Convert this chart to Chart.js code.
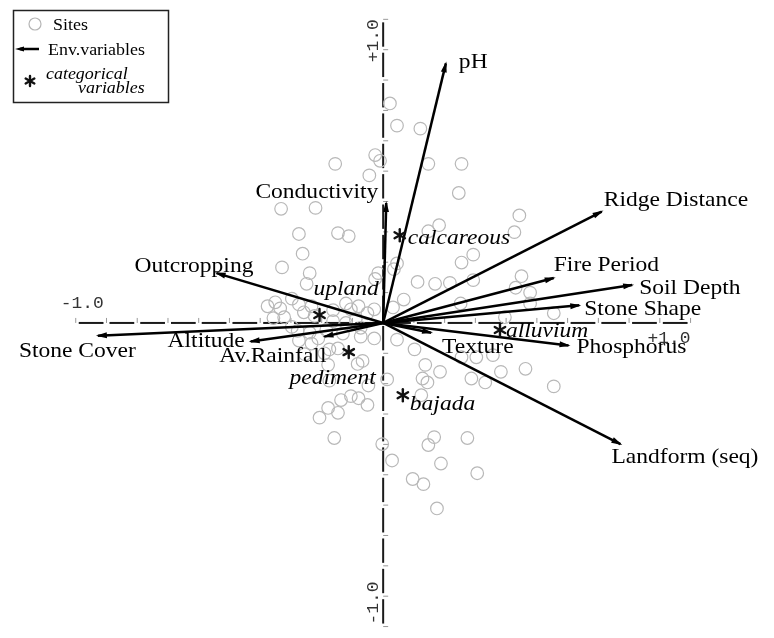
<!DOCTYPE html>
<html lang="en">
<head>
<meta charset="UTF-8">
<script src="https://cdn.jsdelivr.net/npm/chart.js"></script>
<title>CCA biplot</title>
<style>
  body { margin: 0; background: #fff; }
  canvas { display: block; }
</style>
</head>
<body>
<canvas id="biplot" width="774" height="638"></canvas>
<script>
// site scores on axis 1 / axis 2
const siteX = [0.022, 0.045, 0.121, -0.026, -0.010, -0.156, -0.045, 0.147, 0.255, 0.246,
  -0.332, -0.220, -0.274, -0.147, -0.112, 0.182, 0.147, 0.443, 0.427, -0.262,
  -0.329, -0.239, -0.249, -0.016, -0.026, 0.045, 0.035, 0.293, 0.255, 0.112,
  0.169, 0.217, 0.293, 0.450, 0.431, 0.478, 0.478, 0.252, 0.067, 0.032,
  0.396, 0.555, -0.351, -0.335, -0.322, -0.297, -0.274, -0.258, -0.233, -0.223,
  -0.163, -0.121, -0.105, -0.080, -0.051, -0.029, -0.163, -0.121, -0.089, -0.073,
  -0.297, -0.278, -0.239, -0.185, -0.131, -0.073, -0.029, -0.211, -0.274, -0.233,
  -0.175, -0.147, -0.255, -0.191, -0.083, -0.067, -0.376, -0.357, -0.179, -0.175,
  -0.048, 0.013, -0.137, -0.105, -0.080, -0.051, -0.179, -0.207, -0.147, -0.159,
  -0.003, 0.029, 0.096, 0.131, 0.175, 0.166, 0.147, 0.274, 0.188, 0.306,
  0.045, 0.102, 0.137, 0.185, 0.128, 0.144, 0.124, 0.255, 0.303, 0.357,
  0.287, 0.332, 0.383, 0.463, 0.555];
const siteY = [0.723, 0.650, 0.640, 0.553, 0.534, 0.524, 0.486, 0.524, 0.524, 0.428,
  0.376, 0.379, 0.293, 0.296, 0.286, 0.322, 0.302, 0.354, 0.299, 0.228,
  0.183, 0.164, 0.129, 0.164, 0.145, 0.196, 0.177, 0.225, 0.199, 0.135,
  0.129, 0.132, 0.141, 0.154, 0.116, 0.100, 0.064, 0.064, 0.077, 0.051,
  0.019, 0.032, 0.068, 0.048, 0.019, 0.080, 0.061, 0.035, 0.055, 0.023,
  0.042, 0.064, 0.045, 0.055, 0.032, 0.045, 0.006, 0.000, 0.013, -0.016,
  -0.013, -0.026, -0.032, -0.023, -0.035, -0.045, -0.051, -0.051, -0.058, -0.068,
  -0.087, -0.084, -0.103, -0.100, -0.135, -0.125, 0.055, 0.016, -0.138, -0.190,
  -0.206, -0.186, -0.254, -0.241, -0.248, -0.270, -0.280, -0.312, -0.296, -0.379,
  -0.399, -0.453, -0.514, -0.531, -0.611, -0.376, -0.402, -0.379, -0.463, -0.495,
  -0.055, -0.087, -0.138, -0.161, -0.183, -0.196, -0.238, -0.113, -0.113, -0.106,
  -0.183, -0.196, -0.161, -0.151, -0.209];

// environmental variable arrows (biplot scores)
const envNames = ['pH', 'Conductivity', 'Ridge Distance', 'Fire Period', 'Soil Depth',
  'Stone Shape', 'Phosphorus', 'Texture', 'Landform (seq)', 'Stone Cover',
  'Altitude', 'Av.Rainfall', 'Outcropping'];
const envX = [0.204, 0.010, 0.711, 0.555, 0.810, 0.638, 0.603, 0.156, 0.772, -0.928, -0.431, -0.191, -0.542];
const envY = [0.855, 0.395, 0.367, 0.148, 0.125, 0.058, -0.074, -0.032, -0.399, -0.042, -0.061, -0.045, 0.164];

// categorical variable centroids
const catNames = ['calcareous', 'upland', 'alluvium', 'pediment', 'bajada'];
const catX = [0.054, -0.207, 0.380, -0.112, 0.064];
const catY = [0.289, 0.026, -0.023, -0.096, -0.238];

const axisTickLabels = ['-1.0', '+1.0'];

// label placement relative to arrow tip / centroid, in px
const envLabelPos = [[13, 5, 'left'], [-8, -5, 'right'], [2, -6, 'left'], [0, -7, 'left'],
  [7, 9, 'left'], [5, 10, 'left'], [8, 8, 'left'], [11, 20, 'left'], [-9, 19, 'left'],
  [-79, 21, 'left'], [-6, 6, 'right'], [2, 25, 'right'], [-82, -1, 'left']];
const catLabelPos = [[8, 9, 'left'], [-6, -20, 'left'], [6, 7, 'left'], [27, 32, 'right'], [7, 15, 'left']];

const STRETCH = 1.12;
const SERIF = '"Liberation Serif", "Times New Roman", serif';

function stretchedText(ctx, txt, x, y, align, font) {
  ctx.save();
  ctx.font = font;
  ctx.textAlign = align;
  ctx.textBaseline = 'alphabetic';
  ctx.translate(x, y);
  ctx.scale(STRETCH, 1);
  ctx.fillText(txt, 0, 0);
  ctx.restore();
}

function arrowHead(ctx, x0, y0, x1, y1, len, half) {
  const a = Math.atan2(y1 - y0, x1 - x0);
  ctx.beginPath();
  ctx.moveTo(x1 + Math.cos(a) * 2, y1 + Math.sin(a) * 2);
  ctx.lineTo(x1 - Math.cos(a) * len + Math.sin(a) * half, y1 - Math.sin(a) * len - Math.cos(a) * half);
  ctx.lineTo(x1 - Math.cos(a) * len - Math.sin(a) * half, y1 - Math.sin(a) * len + Math.cos(a) * half);
  ctx.closePath();
  ctx.fill();
}

function asterisk(ctx, cx, cy, r) {
  ctx.save();
  ctx.strokeStyle = '#111';
  ctx.lineWidth = 2.4;
  ctx.lineCap = 'round';
  for (const deg of [90, 30, 150]) {
    const a = deg * Math.PI / 180;
    ctx.beginPath();
    ctx.moveTo(cx - Math.cos(a) * r, cy - Math.sin(a) * r);
    ctx.lineTo(cx + Math.cos(a) * r, cy + Math.sin(a) * r);
    ctx.stroke();
  }
  ctx.restore();
}

const biplotDecor = {
  id: 'biplotDecor',
  beforeDatasetsDraw(chart) {
    const ctx = chart.ctx;
    const xs = chart.scales.x, ys = chart.scales.y;
    const x0 = xs.getPixelForValue(0), y0 = ys.getPixelForValue(0);
    ctx.save();
    ctx.strokeStyle = '#1a1a1a';
    ctx.lineWidth = 2;
    // dashed axes, gaps at each 0.1 step
    for (let i = -10; i < 10; i++) {
      const a = xs.getPixelForValue(i / 10), b = xs.getPixelForValue((i + 1) / 10);
      ctx.beginPath();
      ctx.moveTo(a + 3, y0);
      ctx.lineTo(b - 3, y0);
      ctx.stroke();
      const c = ys.getPixelForValue(i / 10), d = ys.getPixelForValue((i + 1) / 10);
      ctx.beginPath();
      ctx.moveTo(x0, c - 3);
      ctx.lineTo(x0, d + 3);
      ctx.stroke();
    }
    ctx.strokeStyle = '#999';
    ctx.lineWidth = 1;
    for (let i = -10; i <= 10; i++) {
      const tx = xs.getPixelForValue(i / 10);
      ctx.beginPath();
      ctx.moveTo(tx, y0 - 5);
      ctx.lineTo(tx, y0);
      ctx.stroke();
      const ty = ys.getPixelForValue(i / 10);
      ctx.beginPath();
      ctx.moveTo(x0, ty);
      ctx.lineTo(x0 + 5, ty);
      ctx.stroke();
    }
    // axis end labels
    const mono = '16px "Liberation Mono", "Courier New", monospace';
    ctx.fillStyle = '#333';
    stretchedText(ctx, axisTickLabels[0], xs.getPixelForValue(-1) - 15, y0 - 15, 'left', mono);
    stretchedText(ctx, axisTickLabels[1], xs.getPixelForValue(1), y0 + 20, 'right', mono);
    ctx.save();
    ctx.font = mono;
    ctx.textBaseline = 'alphabetic';
    ctx.translate(x0 - 5, ys.getPixelForValue(1));
    ctx.rotate(-Math.PI / 2);
    ctx.scale(STRETCH, 1);
    ctx.textAlign = 'right';
    ctx.fillText(axisTickLabels[1], 0, 0);
    ctx.restore();
    ctx.save();
    ctx.font = mono;
    ctx.textBaseline = 'alphabetic';
    ctx.translate(x0 - 5, ys.getPixelForValue(-1) - 2);
    ctx.rotate(-Math.PI / 2);
    ctx.scale(STRETCH, 1);
    ctx.textAlign = 'left';
    ctx.fillText(axisTickLabels[0], 0, 0);
    ctx.restore();
    ctx.restore();
  },
  afterDatasetsDraw(chart) {
    const ctx = chart.ctx;
    const font = '21px ' + SERIF;
    const ifont = 'italic 21px ' + SERIF;
    ctx.save();
    ctx.fillStyle = '#000';
    envNames.forEach((name, i) => {
      const pts = chart.getDatasetMeta(i + 1).data;
      arrowHead(ctx, pts[0].x, pts[0].y, pts[1].x, pts[1].y, 9, 3);
      const p = envLabelPos[i];
      stretchedText(ctx, name, pts[1].x + p[0], pts[1].y + p[1], p[2], font);
    });
    const catMeta = chart.getDatasetMeta(envNames.length + 1).data;
    catNames.forEach((name, i) => {
      const pt = catMeta[i];
      asterisk(ctx, pt.x, pt.y, 6);
      const p = catLabelPos[i];
      stretchedText(ctx, name, pt.x + p[0], pt.y + p[1], p[2], ifont);
    });

    // legend box
    ctx.fillStyle = '#fff';
    ctx.fillRect(13, 10, 155, 92);
    ctx.strokeStyle = '#222';
    ctx.lineWidth = 1.5;
    ctx.strokeRect(13.5, 10.5, 155, 92);
    ctx.strokeStyle = '#b5b5b5';
    ctx.lineWidth = 1.2;
    ctx.beginPath();
    ctx.arc(35, 24, 6, 0, Math.PI * 2);
    ctx.stroke();
    ctx.fillStyle = '#000';
    stretchedText(ctx, 'Sites', 53, 30, 'left', '16px ' + SERIF);
    ctx.strokeStyle = '#000';
    ctx.lineWidth = 2.5;
    ctx.beginPath();
    ctx.moveTo(39, 49);
    ctx.lineTo(20, 49);
    ctx.stroke();
    arrowHead(ctx, 39, 49, 17, 49, 7, 2.5);
    stretchedText(ctx, 'Env.variables', 48, 55, 'left', '16px ' + SERIF);
    asterisk(ctx, 30, 81, 5);
    stretchedText(ctx, 'categorical', 46, 79, 'left', 'italic 16px ' + SERIF);
    stretchedText(ctx, 'variables', 78, 93, 'left', 'italic 16px ' + SERIF);
    ctx.restore();
  }
};

const datasets = [{
  label: 'Sites',
  data: siteX.map((x, i) => ({ x: x, y: siteY[i] })),
  pointRadius: 6.3,
  pointBorderColor: '#b8b8b8',
  pointBackgroundColor: 'rgba(0,0,0,0)',
  pointBorderWidth: 1.2,
  showLine: false,
  order: 3
}];
envNames.forEach((name, i) => {
  datasets.push({
    label: name,
    data: [{ x: 0, y: 0 }, { x: envX[i], y: envY[i] }],
    showLine: true,
    borderColor: '#000',
    borderWidth: 2.5,
    pointRadius: 0,
    order: 1
  });
});
datasets.push({
  label: 'categorical variables',
  data: catX.map((x, i) => ({ x: x, y: catY[i] })),
  pointRadius: 0,
  showLine: false,
  order: 2
});

new Chart(document.getElementById('biplot'), {
  type: 'scatter',
  data: { datasets: datasets },
  plugins: [biplotDecor],
  options: {
    responsive: false,
    animation: false,
    events: [],
    layout: { padding: 0 },
    plugins: { legend: { display: false }, tooltip: { enabled: false } },
    scales: {
      x: { type: 'linear', min: -1.222, max: 1.247, display: false },
      y: { type: 'linear', min: -1.013, max: 1.039, display: false }
    }
  }
});
</script>
</body>
</html>
